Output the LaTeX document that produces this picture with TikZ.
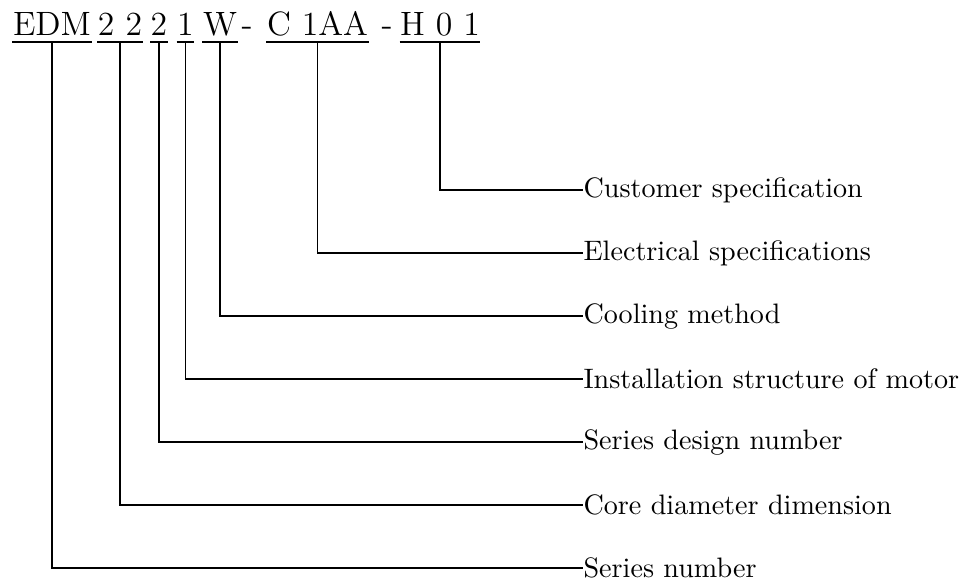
\documentclass[tikz,border=0pt]{standalone}
\usepackage{tikz}
\usetikzlibrary{positioning}

\begin{document}
\begin{tikzpicture}[
    x=0.0125cm, y=-0.0125cm, % one unit = one pixel of the sheet
    code/.style={anchor=south, inner xsep=0pt, inner ysep=2pt, text depth=0pt, font=\large}, % Style for parts of the type code
    lbl/.style={anchor=west, inner sep=0pt}, % Style for the meanings
    wire/.style={semithick} % Style for the leader lines
]

    \useasboundingbox (0,0) rectangle (961,583);

    % Type code, one node per underlined part
    \node[code] (ser)    at (52,42)    {EDM};
    \node[code] (core)   at (120,42)   {2 2};
    \node[code] (design) at (159,42)   {2};
    \node[code] (mount)  at (185.5,42) {1};
    \node[code] (cool)   at (220,42)   {W};
    \node[code] (dashA)  at (247,42)   {-};
    \node[code] (elec)   at (317.5,42) {C 1AA};
    \node[code] (dashB)  at (387,42)   {-};
    \node[code] (cust)   at (440,42)   {H 0 1};

    % Underlines
    \foreach \n in {ser,core,design,mount,cool,elec,cust}
        \draw[wire] (\n.south west) -- (\n.south east);

    % Meanings
    \node[lbl] (lCust)   at (583,190) {Customer specification};
    \node[lbl] (lElec)   at (583,253) {Electrical specifications};
    \node[lbl] (lCool)   at (583,316) {Cooling method};
    \node[lbl] (lMount)  at (583,379) {Installation structure of motor};
    \node[lbl] (lDesign) at (583,442) {Series design number};
    \node[lbl] (lCore)   at (583,505) {Core diameter dimension};
    \node[lbl] (lSer)    at (583,568) {Series number};

    % Leader lines
    \foreach \n/\m in {cust/lCust, elec/lElec, cool/lCool, mount/lMount,
                       design/lDesign, core/lCore, ser/lSer}
        \draw[wire] (\n.south) |- (\m.west);

\end{tikzpicture}
\end{document}
